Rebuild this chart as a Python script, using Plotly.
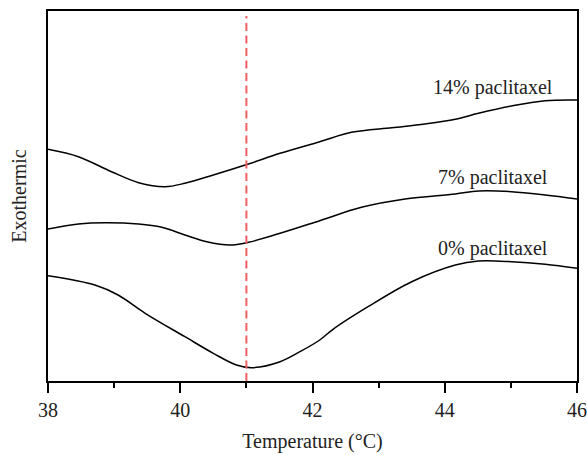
import plotly.graph_objects as go

# Temperature (°C) sample points and exothermic signal (arbitrary units)
temp_14 = [38.0, 38.46, 38.96, 39.37, 39.77, 40.07, 40.5, 41.03, 41.51, 42.11, 42.59, 43.2, 43.7, 44.16, 44.51, 45.01, 45.52, 46.0]
sig_14 = [231.7, 224.3, 209.3, 198.3, 194.3, 197.7, 206, 217, 227.7, 239.3, 248.7, 253.3, 257, 261.7, 267.7, 275, 280.3, 281]

temp_7 = [38.0, 38.46, 38.86, 39.37, 39.72, 40.07, 40.4, 40.75, 41.03, 41.51, 42.11, 42.74, 43.4, 44.16, 44.51, 45.01, 45.52, 46.0]
sig_7 = [152, 157, 158.3, 157, 153.7, 146, 139.3, 136, 138.7, 147.7, 160.3, 173.7, 182, 187, 190, 189.3, 186, 182]

temp_0 = [38.0, 38.71, 39.06, 39.47, 40.07, 40.5, 40.85, 41.08, 41.51, 41.81, 42.11, 42.31, 42.84, 43.5, 44.16, 44.51, 45.01, 45.52, 46.0]
sig_0 = [105.3, 96, 86, 67.7, 44.3, 27.7, 16, 13.3, 19.3, 29.3, 41, 51.7, 74.3, 99.3, 116, 120, 119.3, 116.7, 112.7]

marker_temp = [41, 41]
marker_sig = [0, 365]

labels = ["14% paclitaxel", "7% paclitaxel", "0% paclitaxel"]
label_x = [44.73, 44.73, 44.73]
label_y = [294, 204, 133]

fig = go.Figure()
for t, s in [(temp_14, sig_14), (temp_7, sig_7), (temp_0, sig_0)]:
    fig.add_trace(go.Scatter(x=t, y=s, mode="lines", line=dict(color="black", width=1.5, shape="spline", smoothing=1.0),
                             showlegend=False, hoverinfo="skip"))
fig.add_trace(go.Scatter(x=marker_temp, y=marker_sig, mode="lines",
                         line=dict(color="#ef6060", width=2, dash="8px,4.5px"), showlegend=False))

for txt, x, y in zip(labels, label_x, label_y):
    fig.add_annotation(x=x, y=y, text=txt, showarrow=False, xanchor="center", yanchor="middle",
                       font=dict(family="Liberation Serif", size=20, color="#222"))

font = dict(family="Liberation Serif", size=20, color="#222")
fig.update_layout(
    width=587, height=455,
    margin=dict(l=48, r=10, t=11, b=74),
    plot_bgcolor="white", paper_bgcolor="white",
    font=font,
    xaxis=dict(range=[38, 46], tickvals=[38, 40, 42, 44, 46], ticks="outside", ticklen=10, tickwidth=1.5,
               tickcolor="black", showline=True, linecolor="black", linewidth=1.5, mirror=True,
               showgrid=False, zeroline=False, automargin=False,
               minor=dict(tickvals=[39, 41, 43, 45], ticks="outside", ticklen=5, tickwidth=1.5, tickcolor="black"),
               title=dict(text="Temperature (°C)", font=font, standoff=14),
               tickfont=font),
    yaxis=dict(range=[0, 370], showticklabels=False, ticks="", showline=True, linecolor="black", linewidth=1.5,
               mirror=True, showgrid=False, zeroline=False, automargin=False,
               title=dict(text="Exothermic", font=font, standoff=14)),
)
fig.write_html("out.html")
